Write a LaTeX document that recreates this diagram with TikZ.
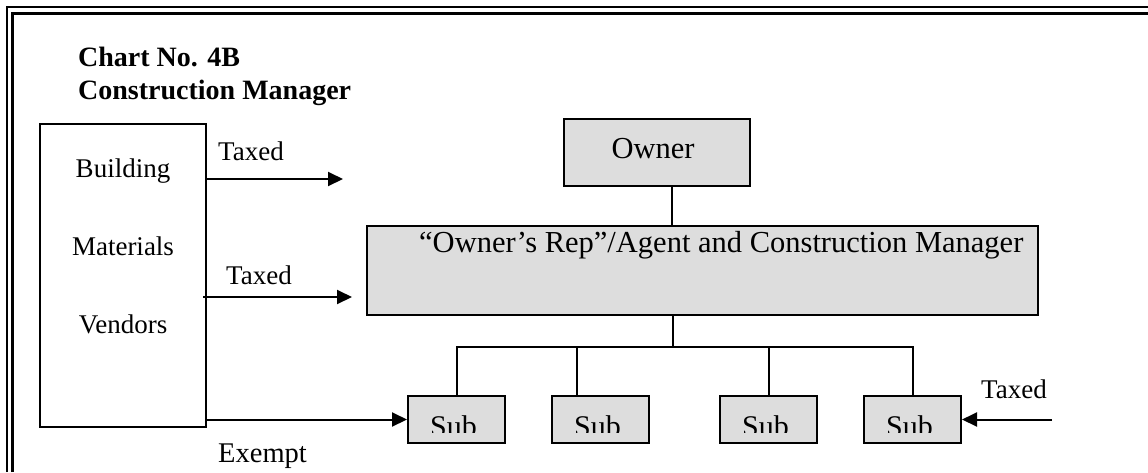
\documentclass[tikz,border=0pt]{standalone}
\usepackage{fontspec}
\setmainfont{Liberation Serif}
\usetikzlibrary{arrows.meta}
\definecolor{boxgray}{RGB}{221,221,221}
\begin{document}
\begin{tikzpicture}[x=1pt,y=-1pt,
  txt/.style={font=\fontsize{27}{32}\selectfont, inner sep=0pt, anchor=base},
  bigtxt/.style={font=\fontsize{30.5}{35}\selectfont, inner sep=0pt, anchor=base},
  titletxt/.style={font=\fontsize{28}{33}\selectfont\bfseries, inner sep=0pt, anchor=base west},
  subtxt/.style={font=\fontsize{30}{34}\selectfont, inner sep=0pt, anchor=base},
  plainbox/.style={draw, line width=2pt, inner sep=0pt},
  graybox/.style={draw, line width=2pt, fill=boxgray, inner sep=0pt},
  subbox/.style={graybox, minimum width=97pt, minimum height=47pt},
  wire/.style={line width=2pt},
  arr/.style={line width=2pt, -{Triangle[length=15pt,width=14pt]}},
  frameout/.style={line width=2pt},
  framein/.style={line width=3pt},
]
\useasboundingbox (0,0) rectangle (1148,472);
\fill[white] (0,0) rectangle (1148,472);
% outer double frame (only top and left visible)
\draw[frameout] (6.5,472) -- (6.5,7) -- (1148,7);
\draw[framein] (12,472) -- (12,13) -- (1148,13);

% title
\node[titletxt] (title1) at (78,66) {Chart No. 4B};
\node[titletxt] (title2) at (78,99) {Construction Manager};

% vendors box
\node[plainbox, minimum width=166pt, minimum height=303pt] (vend) at (123,275.5) {};
\node[txt] (vb) at (123,177) {Building};
\node[txt] (vm) at (123,255) {Materials};
\node[txt] (vv) at (123,333) {Vendors};

% owner and rep
\node[graybox, minimum width=186pt, minimum height=67pt] (owner) at (657,152.5) {};
\node[bigtxt] (ownertxt) at (653,158) {Owner};
\node[graybox, minimum width=671pt, minimum height=89pt] (rep) at (702.5,270.5) {};
\node[bigtxt, anchor=base west] (reptxt) at (419,252) {``Owner's Rep''/Agent and Construction Manager};

% subs
\node[subbox] (sub1) at (456.5,419.5) {};
\node[subbox] (sub2) at (600.5,419.5) {};
\node[subbox] (sub3) at (768.5,419.5) {};
\node[subbox] (sub4) at (912.5,419.5) {};
\foreach \s in {sub1,sub2,sub3,sub4}{
  \begin{scope}
    \clip ([xshift=1pt,yshift=-1pt]\s.north west) rectangle ([xshift=-1pt]\s.east |- 0,432);
    \node[subtxt] (\s txt) at ([xshift=-3pt]\s.center |- 0,436) {Sub};
  \end{scope}
}

% connectors
\coordinate (bus) at (672.7,347);
\draw[wire] ([xshift=15pt]owner.south) -- ([xshift=15pt]owner.south |- rep.north);
\draw[wire] (bus |- rep.south) -- (bus);
\draw[wire] ([xshift=0.5pt]sub1.north) |- (sub4.north |- bus) -- (sub4.north);
\draw[wire] ([xshift=-23.5pt]sub2.north) -- ([xshift=-23.5pt]sub2.north |- bus);
\draw[wire] ([xshift=0.5pt]sub3.north) -- ([xshift=0.5pt]sub3.north |- bus);

% arrows
\coordinate (a1end) at (343,179);
\coordinate (a2start) at (203,297);
\coordinate (a2end) at (352,297);
\coordinate (a3start) at (1052,419.5);
\draw[arr] (vend.east |- a1end) -- (a1end);
\draw[arr] (a2start) -- (a2end);
\draw[arr] (vend.east |- sub1.west) -- (sub1.west);
\draw[arr] (a3start) -- (sub4.east);

% labels
\node[txt, anchor=base west] (lt1) at (218,160) {Taxed};
\node[txt, anchor=base west] (lt2) at (226,284) {Taxed};
\node[txt, anchor=base west] (lt3) at (981,398) {Taxed};
\node[txt, font=\fontsize{28.5}{33}\selectfont, anchor=base west] (lex) at (218,462) {Exempt};
\end{tikzpicture}
\end{document}
